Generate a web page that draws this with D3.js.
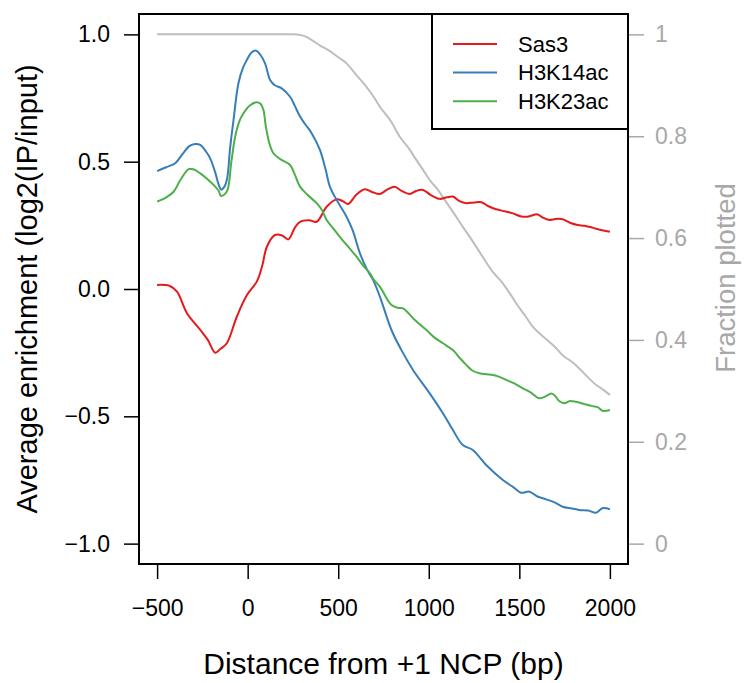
<!DOCTYPE html>
<html>
    <head>
        <meta charset="utf-8">
        <title>Sas3 enrichment</title>
        <script src="https://d3js.org/d3.v7.min.js"></script>
        <style>
            body {
                margin: 0;
                background: white;
            }
            svg text {
                font-family: "Liberation Sans", Arial, Helvetica, sans-serif;
            }
            .axis .domain {
                stroke: none;
            }
        </style>
    </head>

    <body>
        <svg id="svg" width=746 height=683></svg>

        <script>
            // Data: [distance (bp), value]
            const sas3 = [
                [-500, 0.016], [-430, 0.012], [-390, -0.01], [-335, -0.095], [-262, -0.16], [-220, -0.2],
                [-179, -0.25], [-150, -0.235], [-115, -0.213], [-60, -0.109], [-4, -0.024], [51, 0.03],
                [80, 0.09], [106, 0.166], [151, 0.212], [190, 0.21], [225, 0.195], [260, 0.24], [289, 0.264],
                [340, 0.27], [381, 0.264], [436, 0.323], [491, 0.352], [525, 0.345], [555, 0.334], [600, 0.37],
                [647, 0.392], [690, 0.38], [730, 0.373], [770, 0.39], [812, 0.402], [850, 0.385], [895, 0.373],
                [930, 0.385], [968, 0.389], [1010, 0.37], [1060, 0.354], [1100, 0.36], [1133, 0.363],
                [1170, 0.345], [1207, 0.337], [1250, 0.34], [1290, 0.341], [1330, 0.325], [1372, 0.313],
                [1420, 0.305], [1464, 0.297], [1510, 0.285], [1546, 0.284], [1601, 0.293], [1630, 0.28],
                [1666, 0.271], [1700, 0.275], [1739, 0.274], [1780, 0.26], [1822, 0.251], [1860, 0.248],
                [1904, 0.241], [1950, 0.232], [2000, 0.225]
            ];

            const h3k14ac = [
                [-500, 0.463], [-450, 0.478], [-400, 0.494], [-360, 0.53], [-320, 0.562], [-290, 0.569],
                [-262, 0.566], [-230, 0.54], [-207, 0.513], [-180, 0.46], [-160, 0.41], [-146, 0.39],
                [-130, 0.4], [-115, 0.428], [-96, 0.56], [-78, 0.664], [-51, 0.808], [-25, 0.87], [-4, 0.9],
                [20, 0.928], [47, 0.936], [70, 0.92], [96, 0.886], [124, 0.821], [150, 0.8], [188, 0.788],
                [234, 0.755], [260, 0.72], [289, 0.677], [320, 0.645], [354, 0.611], [399, 0.546],
                [430, 0.47], [454, 0.402], [491, 0.35], [546, 0.284], [580, 0.23], [620, 0.14], [660, 0.075],
                [693, 0.035], [730, -0.03], [794, -0.161], [849, -0.24], [913, -0.318], [1005, -0.41],
                [1078, -0.488], [1130, -0.55], [1188, -0.613], [1243, -0.632], [1317, -0.691], [1409, -0.75],
                [1470, -0.78], [1510, -0.8], [1556, -0.796], [1600, -0.815], [1648, -0.826], [1700, -0.84],
                [1739, -0.855], [1790, -0.862], [1831, -0.868], [1880, -0.87], [1923, -0.879], [1959, -0.861],
                [2000, -0.865]
            ];

            const h3k23ac = [
                [-500, 0.343], [-450, 0.36], [-409, 0.382], [-370, 0.43], [-326, 0.471], [-300, 0.47],
                [-262, 0.454], [-220, 0.43], [-179, 0.402], [-160, 0.385], [-148, 0.366], [-130, 0.37],
                [-111, 0.389], [-90, 0.5], [-69, 0.598], [-45, 0.66], [-23, 0.69], [10, 0.72], [47, 0.733],
                [70, 0.728], [87, 0.703], [100, 0.64], [120, 0.572], [142, 0.533], [180, 0.51], [234, 0.487],
                [260, 0.45], [289, 0.402], [330, 0.37], [381, 0.337], [410, 0.31], [436, 0.271], [470, 0.24],
                [509, 0.205], [550, 0.17], [601, 0.127], [640, 0.09], [675, 0.062], [693, 0.04], [730, 0.009],
                [794, -0.063], [830, -0.074], [858, -0.076], [920, -0.12], [987, -0.161], [1030, -0.19],
                [1078, -0.213], [1133, -0.24], [1170, -0.27], [1207, -0.298], [1240, -0.32], [1280, -0.331],
                [1320, -0.335], [1354, -0.338], [1390, -0.345], [1427, -0.357], [1470, -0.37], [1519, -0.39],
                [1560, -0.405], [1611, -0.429], [1650, -0.42], [1675, -0.41], [1693, -0.416], [1720, -0.44],
                [1748, -0.449], [1780, -0.44], [1812, -0.443], [1860, -0.452], [1904, -0.46], [1935, -0.465],
                [1959, -0.478], [2000, -0.475]
            ];

            // Fraction of regions plotted (right axis)
            const fractionPlotted = [
                [-500, 1], [250, 1], [300, 0.998], [330, 0.994], [370, 0.985], [400, 0.978], [450, 0.968],
                [500, 0.955], [546, 0.943], [600, 0.92], [656, 0.897], [700, 0.875], [730, 0.858], [790, 0.83],
                [840, 0.799], [890, 0.776], [932, 0.753], [970, 0.733], [1005, 0.714], [1050, 0.695],
                [1088, 0.675], [1140, 0.648], [1188, 0.622], [1240, 0.595], [1298, 0.563], [1350, 0.535],
                [1409, 0.511], [1450, 0.49], [1482, 0.472], [1537, 0.445], [1574, 0.426], [1620, 0.41],
                [1666, 0.396], [1700, 0.385], [1739, 0.37], [1790, 0.357], [1831, 0.344], [1880, 0.326],
                [1923, 0.312], [1960, 0.303], [2000, 0.292]
            ];

            const seriesNames = ["Sas3", "H3K14ac", "H3K23ac"];
            const seriesColors = ["#e41a1c", "#377eb8", "#4daf4a"];
            const xTicks = [-500, 0, 500, 1000, 1500, 2000];
            const yTicks = [-1, -0.5, 0, 0.5, 1];
            const fracTicks = [0, 0.2, 0.4, 0.6, 0.8, 1];

            const svg = d3.select("svg#svg");
            const margins = {top: 14, right: 118, bottom: 119, left: 139};
            const width = +svg.attr("width");
            const height = +svg.attr("height");
            const chartWidth = width - margins.left - margins.right;
            const chartHeight = height - margins.top - margins.bottom;

            // R-style 4% padding on the data ranges
            const xScale = d3.scaleLinear()
                             .domain([-600, 2100])
                             .range([margins.left, margins.left + chartWidth]);
            const yScale = d3.scaleLinear()
                             .domain([-1.08, 1.08])
                             .range([margins.top + chartHeight, margins.top]);
            const fracScale = d3.scaleLinear()
                                .domain([-0.04, 1.04])
                                .range([margins.top + chartHeight, margins.top]);

            const minus = s => s.replace("-", "\u2212");
            const grey = "#a8a8a8";

            // Left axis
            let leftAxis = svg.append("g")
                              .attr("class", "axis")
                              .attr("transform", `translate(${margins.left},0)`)
                              .call(d3.axisLeft(yScale)
                                      .tickValues(yTicks)
                                      .tickSize(15)
                                      .tickPadding(14)
                                      .tickFormat(d => minus(d.toFixed(1))));
            leftAxis.selectAll("line").attr("stroke", "black").attr("stroke-width", 1.5);
            leftAxis.selectAll("text").attr("font-size", 23).attr("fill", "black");

            // Bottom axis
            let bottomAxis = svg.append("g")
                                .attr("class", "axis")
                                .attr("transform", `translate(0,${margins.top + chartHeight})`)
                                .call(d3.axisBottom(xScale)
                                        .tickValues(xTicks)
                                        .tickSize(15)
                                        .tickPadding(21)
                                        .tickFormat(d => minus(String(d))));
            bottomAxis.selectAll("line").attr("stroke", "black").attr("stroke-width", 1.5);
            bottomAxis.selectAll("text").attr("font-size", 23).attr("fill", "black");

            // Right axis (grey)
            let rightAxis = svg.append("g")
                               .attr("class", "axis")
                               .attr("transform", `translate(${margins.left + chartWidth},0)`)
                               .call(d3.axisRight(fracScale)
                                       .tickValues(fracTicks)
                                       .tickSize(16)
                                       .tickPadding(11)
                                       .tickFormat(d => String(d)));
            rightAxis.selectAll("line").attr("stroke", grey).attr("stroke-width", 1.5);
            rightAxis.selectAll("text").attr("font-size", 23).attr("fill", grey);

            // Axis titles
            svg.append("text")
               .attr("x", margins.left + chartWidth / 2)
               .attr("y", 674)
               .attr("text-anchor", "middle")
               .attr("font-size", 30)
               .text("Distance from +1 NCP (bp)");
            svg.append("text")
               .attr("transform", `translate(37,${margins.top + chartHeight / 2}) rotate(-90)`)
               .attr("text-anchor", "middle")
               .attr("font-size", 29)
               .text("Average enrichment (log2(IP/input)");
            svg.append("text")
               .attr("transform", `translate(735,278) rotate(-90)`)
               .attr("text-anchor", "middle")
               .attr("font-size", 27.5)
               .attr("fill", grey)
               .text("Fraction plotted");

            // Lines
            const lineGen = d3.line()
                              .x(d => xScale(d[0]))
                              .y(d => yScale(d[1]))
                              .curve(d3.curveCatmullRom);
            const fracLine = d3.line()
                               .x(d => xScale(d[0]))
                               .y(d => fracScale(d[1]))
                               .curve(d3.curveMonotoneX);

            let chartArea = svg.append("g").attr("id", "chartArea");
            chartArea.append("path")
                     .attr("fill", "none")
                     .attr("stroke", "#bebebe")
                     .attr("stroke-width", 2)
                     .attr("d", fracLine(fractionPlotted));

            [sas3, h3k14ac, h3k23ac].forEach((s, i) => {
                chartArea.append("path")
                         .attr("fill", "none")
                         .attr("stroke", seriesColors[i])
                         .attr("stroke-width", 2)
                         .attr("d", lineGen(s));
            });

            // Plot box
            svg.append("rect")
               .attr("x", margins.left)
               .attr("y", margins.top)
               .attr("width", chartWidth)
               .attr("height", chartHeight)
               .attr("fill", "none")
               .attr("stroke", "black")
               .attr("stroke-width", 2);

            // Legend
            let legend = svg.append("g").attr("id", "legend");
            legend.append("rect")
                  .attr("x", 432)
                  .attr("y", margins.top)
                  .attr("width", margins.left + chartWidth - 432)
                  .attr("height", 115)
                  .attr("fill", "white")
                  .attr("stroke", "black")
                  .attr("stroke-width", 2);
            seriesNames.forEach((name, i) => {
                let y = 44 + i * 28.6;
                legend.append("line")
                      .attr("x1", 453).attr("x2", 497)
                      .attr("y1", y).attr("y2", y)
                      .attr("stroke", seriesColors[i])
                      .attr("stroke-width", 2);
                legend.append("text")
                      .attr("x", 518)
                      .attr("y", y)
                      .attr("dy", "0.35em")
                      .attr("font-size", 22)
                      .text(name);
            });
        </script>
    </body>
</html>
